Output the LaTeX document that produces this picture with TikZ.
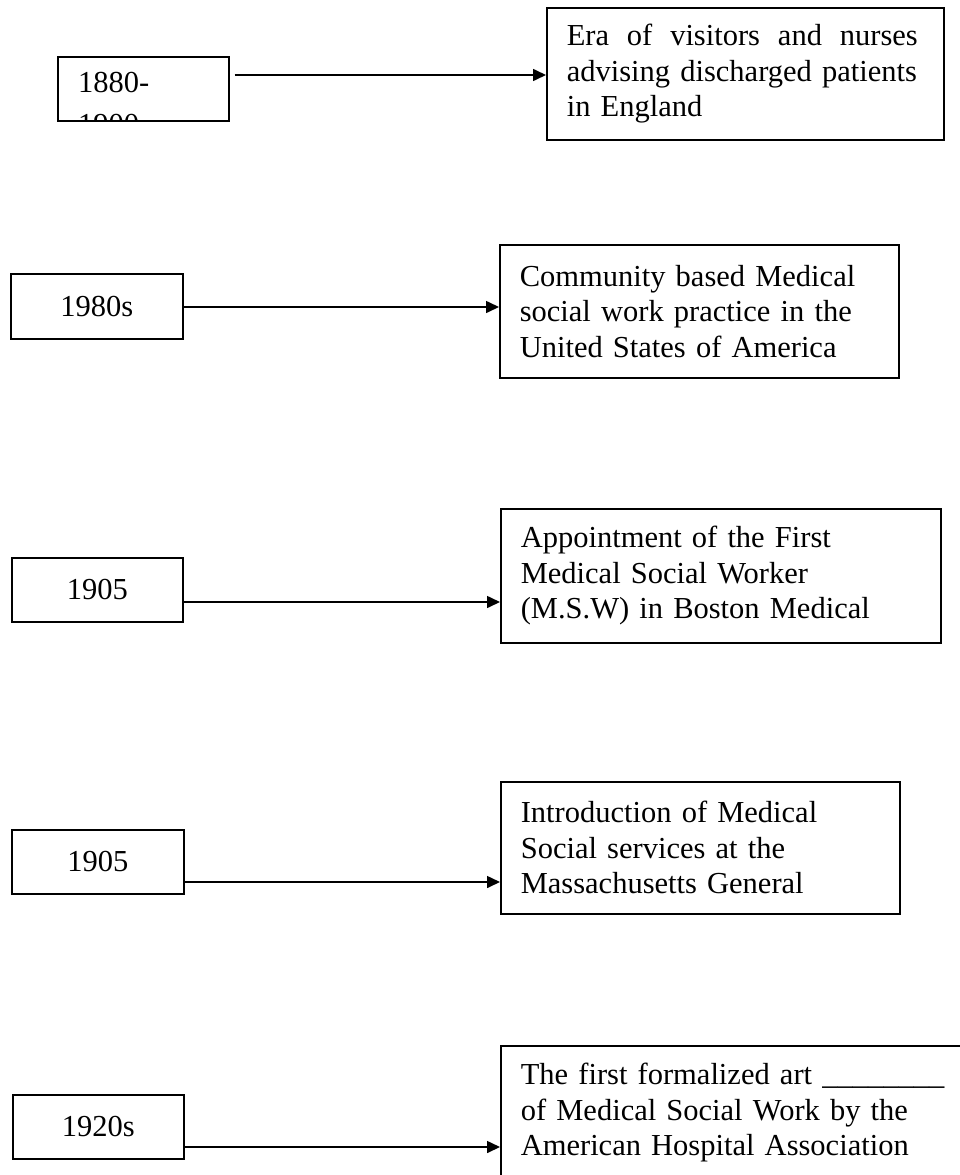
\documentclass[tikz,border=0pt]{standalone}
\usepackage{fontspec}
\setmainfont{Liberation Serif}
\usetikzlibrary{arrows.meta}
\tikzset{
  txt/.style={font=\fontsize{30.5}{35.5}\selectfont},
  yearbox/.style={draw, line width=1.6pt, anchor=north west, inner sep=0pt, txt},
  eventbox/.style={draw, line width=1.6pt, anchor=north west, inner xsep=20pt, inner ysep=0pt, align=left, txt},
  conn/.style={line width=1.6pt, -{Triangle[length=13pt,width=12pt]}}
}
\begin{document}
\begin{tikzpicture}[x=1pt,y=-1pt]
\useasboundingbox (0,0) rectangle (960,1175);
% row 1
\node[yearbox, minimum width=171pt, minimum height=64pt] (y1) at (57,56) {};
\begin{scope}
  \clip (y1.south west) rectangle (y1.north east);
  \node[anchor=north west, inner sep=0pt, align=left, txt] (t1) at (78,72) {1880-\\[7pt]1900};
\end{scope}
\node[eventbox, text width=357pt, minimum height=132pt] (e1) at (546,7)
  {\hbox to 351pt{Era\hfill of\hfill visitors\hfill and\hfill nurses}\\advising discharged patients\\in England};
\draw[conn] ([xshift=5pt]y1.east |- 0,75) -- (e1.west |- 0,75);
% row 2
\node[yearbox, minimum width=172pt, minimum height=65pt] (y2) at (10,273) {1980s};
\node[eventbox, text width=359pt, minimum height=133pt] (e2) at (499,244)
  {Community based Medical\\social work practice in the\\United States of America};
\draw[conn] (y2.east |- 0,307) -- (e2.west |- 0,307);
% row 3
\node[yearbox, minimum width=171pt, minimum height=64pt] (y3) at (11,557) {1905};
\node[eventbox, text width=400pt, minimum height=134pt] (e3) at (500,508)
  {Appointment of the First\\Medical Social Worker\\(M.S.W) in Boston Medical};
\draw[conn] (y3.east |- 0,602) -- (e3.west |- 0,602);
% row 4
\node[yearbox, minimum width=172pt, minimum height=64pt] (y4) at (11,829) {1905};
\node[eventbox, text width=359pt, minimum height=132pt] (e4) at (500,781)
  {Introduction of Medical\\Social services at the\\Massachusetts General};
\draw[conn] (y4.east |- 0,882) -- (e4.west |- 0,882);
% row 5
\node[yearbox, minimum width=171pt, minimum height=64pt] (y5) at (12,1094) {1920s};
\node[eventbox, text width=440pt, minimum height=134pt] (e5) at (500,1045)
  {The first formalized art \_\_\_\_\_\_\_\_\\of Medical Social Work by the\\American Hospital Association};
\draw[conn] (y5.east |- 0,1147) -- (e5.west |- 0,1147);
\end{tikzpicture}
\end{document}
